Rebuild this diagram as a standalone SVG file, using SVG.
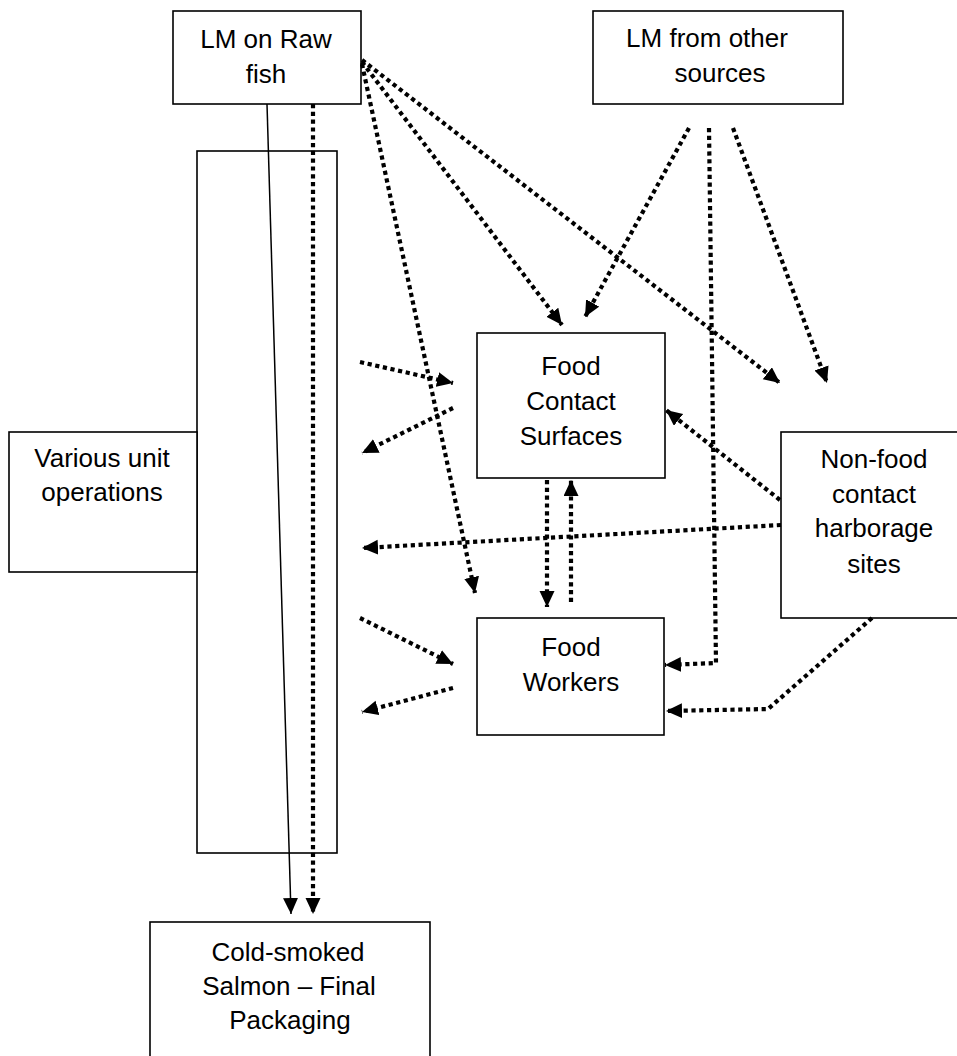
<svg xmlns="http://www.w3.org/2000/svg" width="957" height="1056" viewBox="0 0 957 1056">
<style>
.box{fill:#fff;stroke:#000;stroke-width:1.6}
.t{font-family:"Liberation Sans",Arial,sans-serif;font-size:26px;fill:#000;text-anchor:middle}
.dot{fill:none;stroke:#000;stroke-width:4.2;stroke-dasharray:4.2 3.6;marker-end:url(#ah)}
.solid{fill:none;stroke:#000;stroke-width:1.5;marker-end:url(#ah)}
</style>
<defs>
<marker id="ah" markerUnits="userSpaceOnUse" markerWidth="18" markerHeight="16" refX="16" refY="7.5" orient="auto">
<path d="M0,0 L16,7.5 L0,15 z" fill="#000"/>
</marker>
</defs>
<rect width="957" height="1056" fill="#fff"/>
<g id="unit-ops-column"><rect class="box" x="197" y="151" width="140" height="702"/></g>
<g id="lm-raw-fish"><rect class="box" x="173" y="11" width="188" height="93"/>
<text class="t" x="266" y="48">LM on Raw</text><text class="t" x="266" y="83">fish</text></g>
<g id="lm-other"><rect class="box" x="593" y="11" width="250" height="93"/>
<text class="t" x="707" y="47">LM from other</text><text class="t" x="720" y="82">sources</text></g>
<g id="various"><rect class="box" x="9" y="432" width="188" height="140"/>
<text class="t" x="102" y="467">Various unit</text><text class="t" x="102" y="501">operations</text></g>
<g id="food-contact"><rect class="box" x="477" y="333" width="188" height="145"/>
<text class="t" x="571" y="375">Food</text><text class="t" x="571" y="410">Contact</text><text class="t" x="571" y="445">Surfaces</text></g>
<g id="non-food"><rect class="box" x="781" y="432" width="190" height="186"/>
<text class="t" x="874" y="468">Non-food</text><text class="t" x="874" y="503">contact</text><text class="t" x="874" y="537">harborage</text><text class="t" x="874" y="573">sites</text></g>
<g id="food-workers"><rect class="box" x="477" y="618" width="187" height="117"/>
<text class="t" x="571" y="656">Food</text><text class="t" x="571" y="691">Workers</text></g>
<g id="final"><rect class="box" x="150" y="922" width="280" height="150"/>
<text class="t" x="288" y="961">Cold-smoked</text><text class="t" x="289" y="995">Salmon – Final</text><text class="t" x="290" y="1029">Packaging</text></g>
<g id="connectors">
<line class="solid" x1="267" y1="104" x2="291" y2="914"/>
<line class="dot" x1="313" y1="104" x2="313" y2="914"/>
<line class="dot" x1="362" y1="64" x2="475" y2="593"/>
<line class="dot" x1="362" y1="62" x2="562" y2="325"/>
<line class="dot" x1="362" y1="60" x2="780" y2="383"/>
<line class="dot" x1="689" y1="128" x2="585" y2="317"/>
<line class="dot" x1="733" y1="128" x2="827" y2="383"/>
<polyline class="dot" points="709,128 716,663 665,665"/>
<line class="dot" x1="360" y1="362" x2="453" y2="383"/>
<line class="dot" x1="453" y1="408" x2="362" y2="453"/>
<line class="dot" x1="360" y1="618" x2="453" y2="664"/>
<line class="dot" x1="453" y1="688" x2="362" y2="712"/>
<line class="dot" x1="547" y1="480" x2="547" y2="607"/>
<line class="dot" x1="571" y1="602" x2="571" y2="480"/>
<line class="dot" x1="780" y1="500" x2="666" y2="410"/>
<line class="dot" x1="781" y1="525" x2="362" y2="548"/>
<polyline class="dot" points="872,618 768,709 666,711"/>
</g>
</svg>
